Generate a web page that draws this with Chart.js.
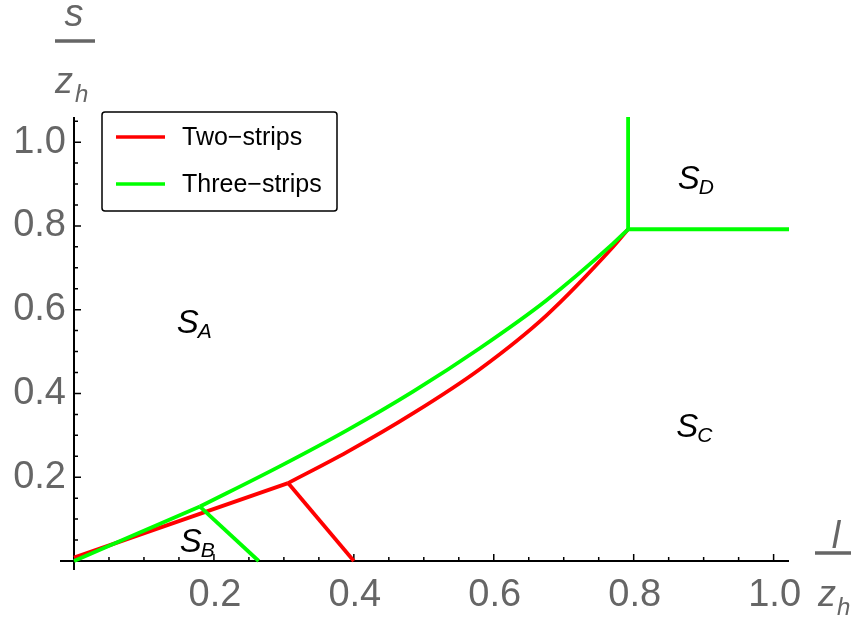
<!DOCTYPE html>
<html>
<head>
<meta charset="utf-8">
<script src="https://cdn.jsdelivr.net/npm/chart.js@4.4.0/dist/chart.umd.min.js"></script>
<style>
html, body { margin: 0; padding: 0; background: #fff; }
#wrap { width: 851px; height: 617px; position: relative; }
</style>
</head>
<body>
<div id="wrap"><canvas id="phaseChart"></canvas></div>
<script>
// phase boundaries, [l/z_h, s/z_h]
const twoStripAB = [[0, 0.008], [0.306, 0.186]];
const twoStripAC = [[0.306, 0.186], [0.39, 0.26], [0.485, 0.353], [0.58, 0.458], [0.675, 0.586], [0.77, 0.749], [0.792, 0.792]];
const twoStripBC = [[0.306, 0.186], [0.4, 0]];

const threeStripAB = [[0, 0], [0.18, 0.13]];
const threeStripAC = [[0.18, 0.13], [0.294, 0.226], [0.39, 0.312], [0.485, 0.405], [0.58, 0.508], [0.675, 0.622], [0.77, 0.757], [0.792, 0.792]];
const threeStripBC = [[0.18, 0.13], [0.264, 0]];
const threeStripDv = [[0.792, 0.792], [0.792, 1.06]];
const threeStripDh = [[0.792, 0.792], [1.022, 0.792]];

// axes
const xTicks = [0.2, 0.4, 0.6, 0.8, 1.0];
const xTickLabels = ['0.2', '0.4', '0.6', '0.8', '1.0'];
const yTicks = [0.2, 0.4, 0.6, 0.8, 1.0];
const yTickLabels = ['0.2', '0.4', '0.6', '0.8', '1.0'];

// legend + region names
const legendLabels = ['Two\u2212strips', 'Three\u2212strips'];
const regionNames = ['A', 'B', 'C', 'D'];
const regionAt = [[0.147, 0.544], [0.151, 0.021], [0.861, 0.296], [0.863, 0.888]];

const RED = '#ff0000';
const GREEN = '#00ff00';
const GRAY = '#666666';

function toPts(arr) {
    return arr.map(p => ({ x: p[0], y: p[1] }));
}

function seg(arr, color, smooth, order) {
    return {
        data: toPts(arr),
        borderColor: color,
        borderWidth: 3.8,
        pointRadius: 0,
        showLine: true,
        fill: false,
        clip: false,
        order: order,
        cubicInterpolationMode: smooth ? 'monotone' : 'default',
        tension: 0
    };
}

// axes, ticks, labels, legend drawn by hand (Mathematica look)
const frame = {
    id: 'frame',
    beforeDatasetsDraw(chart) {
        const { ctx, scales: { x, y } } = chart;
        const x0 = x.getPixelForValue(0), y0 = y.getPixelForValue(0);
        ctx.save();
        ctx.strokeStyle = '#000';
        ctx.lineWidth = 2;
        ctx.beginPath();
        ctx.moveTo(60, y0); ctx.lineTo(x.getPixelForValue(x.max), y0);
        ctx.moveTo(x0, y0 + 9); ctx.lineTo(x0, y.getPixelForValue(y.max));
        ctx.stroke();

        ctx.lineWidth = 1.5;
        ctx.beginPath();
        for (let i = 1; i * 0.05 <= x.max + 1e-9; i++) {
            const px = x.getPixelForValue(i * 0.05);
            const len = (i % 4 === 0) ? 7 : 4;
            ctx.moveTo(px, y0); ctx.lineTo(px, y0 - len);
        }
        for (let i = 1; i * 0.05 <= y.max + 1e-9; i++) {
            const py = y.getPixelForValue(i * 0.05);
            const len = (i % 4 === 0) ? 7 : 4;
            ctx.moveTo(x0, py); ctx.lineTo(x0 + len, py);
        }
        ctx.stroke();
        ctx.restore();
    },
    afterDraw(chart) {
        const { ctx, scales: { x, y } } = chart;
        const y0 = y.getPixelForValue(0);
        ctx.save();

        // tick labels
        ctx.fillStyle = GRAY;
        ctx.font = '38px "Liberation Sans", Arial, sans-serif';
        ctx.textAlign = 'center';
        ctx.textBaseline = 'alphabetic';
        xTicks.forEach((v, i) => ctx.fillText(xTickLabels[i], x.getPixelForValue(v) + 1, y0 + 45));
        ctx.textAlign = 'right';
        ctx.textBaseline = 'middle';
        yTicks.forEach((v, i) => ctx.fillText(yTickLabels[i], 66, y.getPixelForValue(v)));

        // axis titles  s/z_h  and  l/z_h
        ctx.strokeStyle = GRAY;
        ctx.lineWidth = 3.5;
        ctx.beginPath();
        ctx.moveTo(55, 41); ctx.lineTo(95, 41);
        ctx.moveTo(815, 553); ctx.lineTo(851, 553);
        ctx.stroke();
        ctx.textBaseline = 'alphabetic';
        ctx.textAlign = 'center';
        ctx.font = 'italic 38px "Liberation Sans", Arial, sans-serif';
        ctx.fillText('s', 74, 26);
        ctx.fillText('l', 836, 548);
        ctx.textAlign = 'left';
        ctx.font = 'italic 36px "Liberation Sans", Arial, sans-serif';
        ctx.fillText('z', 55, 93);
        ctx.fillText('z', 818, 606);
        ctx.font = 'italic 24px "Liberation Sans", Arial, sans-serif';
        ctx.fillText('h', 75, 102);
        ctx.fillText('h', 837, 615);

        // region names S_A .. S_D
        ctx.fillStyle = '#000';
        regionNames.forEach((n, i) => {
            const px = x.getPixelForValue(regionAt[i][0]);
            const py = y.getPixelForValue(regionAt[i][1]);
            ctx.font = 'italic 33px "Liberation Sans", Arial, sans-serif';
            ctx.fillText('S', px, py);
            const w = ctx.measureText('S').width;
            ctx.font = 'italic 21px "Liberation Sans", Arial, sans-serif';
            ctx.fillText(n, px + w - 1, py + 5);
        });

        // legend box
        ctx.fillStyle = '#fff';
        ctx.strokeStyle = '#000';
        ctx.lineWidth = 1.5;
        ctx.beginPath();
        ctx.roundRect(102, 112, 235, 99, 3);
        ctx.fill();
        ctx.stroke();
        const colors = [RED, GREEN];
        const rows = [137, 184];
        ctx.font = '25px "Liberation Sans", Arial, sans-serif';
        ctx.textBaseline = 'middle';
        legendLabels.forEach((lab, i) => {
            ctx.strokeStyle = colors[i];
            ctx.lineWidth = 3.5;
            ctx.beginPath();
            ctx.moveTo(116, rows[i]); ctx.lineTo(165, rows[i]);
            ctx.stroke();
            ctx.fillStyle = '#000';
            ctx.fillText(lab, 182, rows[i] + 1);
        });
        ctx.restore();
    }
};

new Chart(document.getElementById('phaseChart'), {
    type: 'scatter',
    data: {
        datasets: [
            seg(twoStripAB, RED, false, 2),
            seg(twoStripAC, RED, true, 2),
            seg(twoStripBC, RED, false, 2),
            seg(threeStripAB, GREEN, false, 1),
            seg(threeStripAC, GREEN, true, 1),
            seg(threeStripBC, GREEN, false, 1),
            seg(threeStripDv, GREEN, false, 1),
            seg(threeStripDh, GREEN, false, 1)
        ]
    },
    options: {
        responsive: true,
        maintainAspectRatio: false,
        animation: false,
        layout: { padding: { left: 74, right: 62, top: 117, bottom: 56 } },
        plugins: { legend: { display: false }, tooltip: { enabled: false } },
        scales: {
            x: { type: 'linear', min: 0, max: 1.022, display: false },
            y: { type: 'linear', min: 0, max: 1.06, display: false }
        }
    },
    plugins: [frame]
});
</script>
</body>
</html>
